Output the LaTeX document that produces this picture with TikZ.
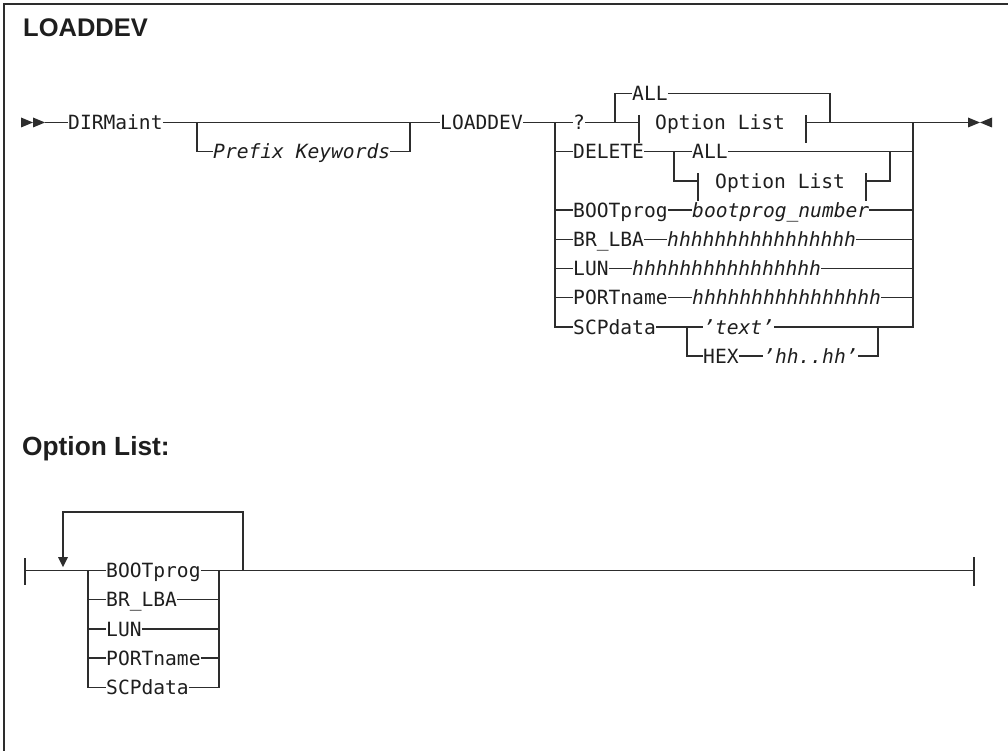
\documentclass[tikz,border=0pt]{standalone}
\usepackage{fontspec}
\usetikzlibrary{calc}
\newfontfamily\monof{DejaVu Sans Mono}
\newfontfamily\monoi{DejaVu Sans Mono Oblique}
\newfontfamily\headf{Liberation Sans}
\definecolor{lc}{RGB}{45,45,45}
\definecolor{tc}{RGB}{30,30,30}
\tikzset{
  rr/.style={line width=1.25pt, draw=lc},
  tx/.style={inner sep=0pt, anchor=west, text height=14.2pt, text depth=0pt, text=tc,
             font={\monof\fontsize{19.6}{20}\selectfont}},
  ti/.style={tx, font={\monoi\fontsize{19.6}{20}\selectfont}},
  head/.style={inner sep=0pt, anchor=base west, text=tc},
}
\begin{document}
\begin{tikzpicture}[x=1pt,y=-1pt]
\useasboundingbox (0,0) rectangle (1008,751);
% frame
\draw[line width=1.4pt, lc] (4,751) -- (4,4) -- (1008,4);
% headings
\node[head, font={\headf\bfseries\fontsize{25.5}{28}\selectfont}] (title) at (23,36.7) {LOADDEV};
\node[head, font={\headf\bfseries\fontsize{26.3}{28}\selectfont}] (olhead) at (22,455) {Option List:};

% ---------- main diagram ----------
\fill[lc] (21,117.5) -- (33,122.5) -- (21,127.5) -- cycle;
\fill[lc] (33,117.5) -- (45,122.5) -- (33,127.5) -- cycle;
\coordinate (st) at (45,122.5);
\node[tx] (dirm) at (68,122.5) {DIRMaint};
\node[ti] (pk) at (213,151.7) {Prefix Keywords};
\node[tx] (loadd) at (440,122.5) {LOADDEV};
\coordinate (p1) at (197,122.5);
\coordinate (p2) at (410,122.5);
\draw[rr] (st) -- (dirm.west);
\draw[rr] (dirm.east) -- (loadd.west);
\draw[rr] (p1) |- (pk.west);
\draw[rr] (pk.east) -| (p2);

\coordinate (L) at (555,122.5);
\coordinate (R) at (913,122.5);
\coordinate (E) at (968,122.5);
\node[tx] (q) at (573,122.5) {?};
\node[tx] (del) at (573,151.7) {DELETE};
\node[tx] (boot) at (573,210.1) {BOOTprog};
\node[tx] (brl) at (573,239.3) {BR\_LBA};
\node[tx] (lun) at (573,268.5) {LUN};
\node[tx] (port) at (573,297.7) {PORTname};
\node[tx] (scp) at (573,326.9) {SCPdata};
\draw[rr] (loadd.east) -- (q.west);
\draw[rr] (L) |- (del.west);
\draw[rr] (L) |- (boot.west);
\draw[rr] (L) |- (brl.west);
\draw[rr] (L) |- (lun.west);
\draw[rr] (L) |- (port.west);
\draw[rr] (L) |- (scp.west);

% ? row with fragment
\coordinate (b1) at (639,122.5);
\coordinate (b2) at (806,122.5);
\coordinate (a1) at (615,122.5);
\coordinate (a2) at (830,122.5);
\node[tx] (all1) at (632,93.3) {ALL};
\node[tx] (ol1) at (655,122.5) {Option List};
\draw[rr] (q.east) -- (b1);
\draw[rr] ($(b1)+(0,-7.5)$) -- ($(b1)+(0,20.5)$);
\draw[rr] ($(b2)+(0,-7.5)$) -- ($(b2)+(0,20.5)$);
\draw[rr] (a1) |- (all1.west);
\draw[rr] (all1.east) -| (a2);
\draw[rr] (b2) -- (R) -- (E);

% DELETE row
\coordinate (d1) at (674,151.7);
\coordinate (d2) at (890,151.7);
\coordinate (b3) at (698,181);
\coordinate (b4) at (866,181);
\node[tx] (all2) at (692,151.7) {ALL};
\node[tx] (ol2) at (715,181) {Option List};
\draw[rr] (del.east) -- (all2.west);
\draw[rr] (all2.east) -| (R);
\draw[rr] (d1) |- (b3);
\draw[rr] ($(b3)+(0,-7.5)$) -- ($(b3)+(0,20.5)$);
\draw[rr] ($(b4)+(0,-7.5)$) -- ($(b4)+(0,20.5)$);
\draw[rr] (b4) -| (d2);

% value rows
\node[ti] (bn) at (692,210.1) {bootprog\_number};
\node[ti] (hb) at (667,239.3) {hhhhhhhhhhhhhhhh};
\node[ti] (hl) at (632,268.5) {hhhhhhhhhhhhhhhh};
\node[ti] (hp) at (692,297.7) {hhhhhhhhhhhhhhhh};
\draw[rr] (boot.east) -- (bn.west);
\draw[rr] (bn.east) -- (R|-bn.east);
\draw[rr] (brl.east) -- (hb.west);
\draw[rr] (hb.east) -- (R|-hb.east);
\draw[rr] (lun.east) -- (hl.west);
\draw[rr] (hl.east) -- (R|-hl.east);
\draw[rr] (port.east) -- (hp.west);
\draw[rr] (hp.east) -- (R|-hp.east);

% SCPdata row
\coordinate (s1) at (687,326.9);
\coordinate (s2) at (878,326.9);
\node[ti] (txt) at (703,326.9) {’text’};
\node[tx] (hex) at (703,356.1) {HEX};
\node[ti] (hh) at (763,356.1) {’hh..hh’};
\draw[rr] (scp.east) -- (txt.west);
\draw[rr] (txt.east) -| (R);
\draw[rr] (s1) |- (hex.west);
\draw[rr] (hex.east) -- (hh.west);
\draw[rr] (hh.east) -| (s2);

% end marker
\fill[lc] (968,117.5) -- (980,122.5) -- (968,127.5) -- cycle;
\fill[lc] (992,117.5) -- (980,122.5) -- (992,127.5) -- cycle;

% ---------- option list ----------
\coordinate (o0) at (25,570.5);
\coordinate (oL) at (88,570.5);
\coordinate (oR) at (219,570.5);
\coordinate (lp) at (243,570.5);
\coordinate (oend) at (974,570.5);
\draw[rr] ($(o0)+(0,-12.5)$) -- ($(o0)+(0,14.5)$);
\draw[rr] ($(oend)+(0,-13.5)$) -- ($(oend)+(0,15.5)$);
\node[tx] (ob) at (106,570.5) {BOOTprog};
\node[tx] (obr) at (106,599.7) {BR\_LBA};
\node[tx] (olun) at (106,628.9) {LUN};
\node[tx] (oport) at (106,658.1) {PORTname};
\node[tx] (oscp) at (106,687.3) {SCPdata};
\draw[rr] (o0) -- (oL);
\draw[rr] (oL) -- (ob.west);
\draw[rr] (oL) |- (obr.west);
\draw[rr] (oL) |- (olun.west);
\draw[rr] (oL) |- (oport.west);
\draw[rr] (oL) |- (oscp.west);
\draw[rr] (ob.east) -- (oR);
\draw[rr] (obr.east) -| (oR);
\draw[rr] (olun.east) -| (oR);
\draw[rr] (oport.east) -| (oR);
\draw[rr] (oscp.east) -| (oR);
\draw[rr] (oR) -- (oend);
% repeat loop
\draw[rr] (lp) -- (243,512) -- (63,512) -- (63,557);
\fill[lc] (58,557) -- (68,557) -- (63,567) -- cycle;
\end{tikzpicture}
\end{document}
